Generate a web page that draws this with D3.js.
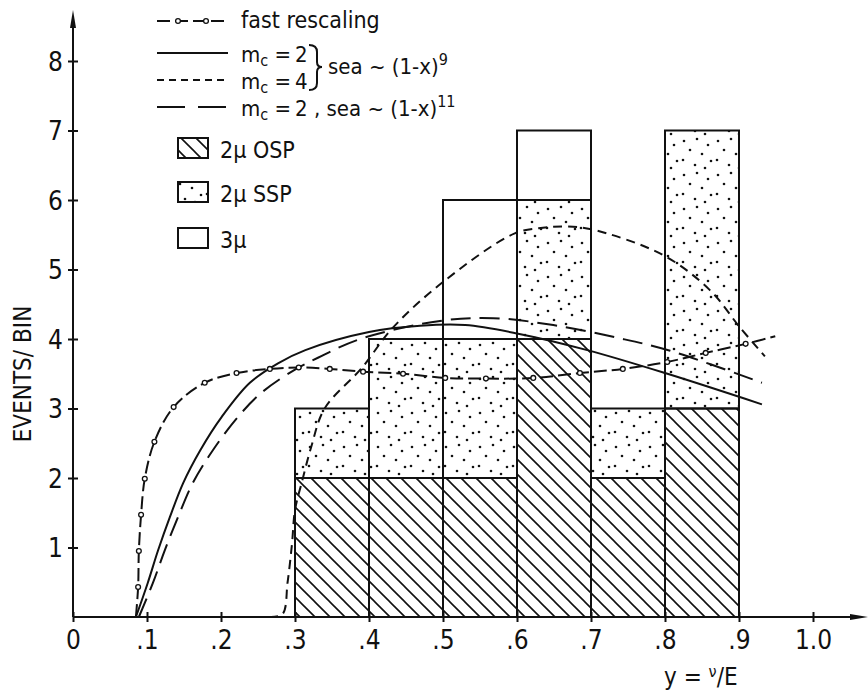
<!DOCTYPE html>
<html>
<head>
<meta charset="utf-8">
<script src="https://cdn.jsdelivr.net/npm/d3@7"></script>
<style>
  body { margin: 0; background: #fff; }
  svg { display: block; }
  text { font-family: "DejaVu Sans Condensed", "Liberation Sans", sans-serif; fill: #111; }
</style>
</head>
<body>
<div id="chart"></div>
<script>
// Histogram bins (left edge of each 0.1 wide bin) and counts per category
const binStarts = [0.3, 0.4, 0.5, 0.6, 0.7, 0.8];
const osp2mu = [2, 2, 2, 4, 2, 3];
const ssp2mu = [1, 2, 2, 2, 1, 4];
const events3mu = [0, 0, 2, 1, 0, 0];

// Curves: [y, events/bin]
const fastRescaling = [[0.085, 0], [0.088, 0.43], [0.089, 0.95], [0.092, 1.47], [0.097, 1.99],
  [0.110, 2.52], [0.136, 3.02], [0.178, 3.37], [0.221, 3.51], [0.266, 3.57], [0.305, 3.59],
  [0.347, 3.57], [0.392, 3.53], [0.446, 3.50], [0.503, 3.44], [0.558, 3.43], [0.622, 3.44],
  [0.685, 3.51], [0.743, 3.57], [0.803, 3.67], [0.855, 3.80], [0.909, 3.93], [0.949, 4.04]];
const mc2Sea9 = [[0.085, 0], [0.101, 0.49], [0.115, 0.96], [0.131, 1.44], [0.149, 1.93],
  [0.172, 2.40], [0.201, 2.88], [0.239, 3.37], [0.277, 3.65], [0.314, 3.84], [0.40, 4.1],
  [0.469, 4.19], [0.53, 4.2], [0.6, 4.08], [0.695, 3.84], [0.8, 3.51], [0.931, 3.06]];
const mc4Sea9 = [[0.265, 0], [0.283, 0.04], [0.29, 0.5], [0.296, 1.06], [0.30, 1.54], [0.31, 1.97],
  [0.322, 2.45], [0.34, 3.0], [0.39, 3.58], [0.432, 4.16], [0.5, 4.82], [0.597, 5.52], [0.635, 5.6],
  [0.665, 5.62], [0.70, 5.58], [0.797, 5.21], [0.861, 4.7], [0.901, 4.17], [0.935, 3.75]];
const mc2Sea11 = [[0.089, 0], [0.108, 0.49], [0.124, 0.96], [0.142, 1.44], [0.162, 1.93],
  [0.189, 2.40], [0.223, 2.88], [0.255, 3.23], [0.30, 3.56], [0.331, 3.73], [0.388, 4.0],
  [0.496, 4.26], [0.568, 4.30], [0.649, 4.2], [0.739, 4.01], [0.807, 3.83], [0.931, 3.37]];

// Tick labels
const xTickValues = [0, 0.1, 0.2, 0.3, 0.4, 0.5, 0.6, 0.7, 0.8, 0.9, 1.0];
const xTickLabels = ["0", ".1", ".2", ".3", ".4", ".5", ".6", ".7", ".8", ".9", "1.0"];
const yTickValues = [1, 2, 3, 4, 5, 6, 7, 8];

const width = 868;
const height = 693;
const ink = "#111";

const svg = d3.select("#chart")
  .append("svg")
    .attr("width", width)
    .attr("height", height);

/* scales */
const xScale = d3.scaleLinear().domain([0, 1]).range([73, 813]);
const yScale = d3.scaleLinear().domain([0, 8]).range([617, 61]);

/* patterns */
const defs = svg.append("defs");
const hatch = defs.append("pattern")
    .attr("id", "hatch")
    .attr("patternUnits", "userSpaceOnUse")
    .attr("width", 15).attr("height", 15)
    .attr("x", 0).attr("y", 2);
hatch.append("path")
    .attr("d", "M0,0 L15,15 M-5,10 L5,20 M10,-5 L20,5")
    .attr("stroke", ink)
    .attr("stroke-width", 1.6);

const dots = defs.append("pattern")
    .attr("id", "dots")
    .attr("patternUnits", "userSpaceOnUse")
    .attr("width", 34).attr("height", 34);
const dotPos = [[4, 5], [17, 3], [28, 9], [10, 14], [22, 18], [3, 24], [31, 25], [15, 29], [25, 32]];
dots.selectAll("circle")
  .data(dotPos)
  .join("circle")
    .attr("cx", d => d[0]).attr("cy", d => d[1])
    .attr("r", 1.3)
    .attr("fill", ink);

/* histogram */
const stacks = binStarts.map((x0, i) => [
  {x0, y0: 0, y1: osp2mu[i], fill: "url(#hatch)"},
  {x0, y0: osp2mu[i], y1: osp2mu[i] + ssp2mu[i], fill: "url(#dots)"},
  {x0, y0: osp2mu[i] + ssp2mu[i], y1: osp2mu[i] + ssp2mu[i] + events3mu[i], fill: "#fff"}
]).flat().filter(d => d.y1 > d.y0);

svg.append("g")
  .selectAll("rect")
  .data(stacks)
  .join("rect")
    .attr("x", d => xScale(d.x0))
    .attr("width", d => xScale(d.x0 + 0.1) - xScale(d.x0))
    .attr("y", d => yScale(d.y1))
    .attr("height", d => yScale(d.y0) - yScale(d.y1))
    .attr("fill", d => d.fill)
    .attr("stroke", ink)
    .attr("stroke-width", 2);

/* curves */
const line = d3.line()
  .x(d => xScale(d[0]))
  .y(d => yScale(d[1]))
  .curve(d3.curveCatmullRom);

const curves = [
  {data: mc2Sea9, dash: null},
  {data: mc4Sea9, dash: "9,6"},
  {data: mc2Sea11, dash: "20,9"},
  {data: fastRescaling, dash: "13,5"}
];
svg.append("g")
  .selectAll("path")
  .data(curves)
  .join("path")
    .attr("d", d => line(d.data))
    .attr("fill", "none")
    .attr("stroke", ink)
    .attr("stroke-width", 2)
    .attr("stroke-dasharray", d => d.dash);

svg.append("g")
  .selectAll("circle")
  .data(fastRescaling.slice(1, -1))
  .join("circle")
    .attr("cx", d => xScale(d[0]))
    .attr("cy", d => yScale(d[1]))
    .attr("r", 2.4)
    .attr("fill", "#fff")
    .attr("stroke", ink)
    .attr("stroke-width", 1.3);

/* axes */
const leftAxis = d3.axisLeft(yScale)
  .tickValues(yTickValues)
  .tickSize(5)
  .tickPadding(5);
const gy = svg.append("g")
    .attr("transform", `translate(${xScale(0)}, 0)`)
    .call(leftAxis);
gy.select(".domain").remove();
gy.selectAll(".tick line").attr("x1", 5).attr("stroke", ink).attr("stroke-width", 2);
gy.selectAll(".tick text")
    .attr("font-size", 26)
    .attr("font-family", "DejaVu Sans Condensed")
    .attr("dy", "0.36em")
    .attr("fill", ink);

const bottomAxis = d3.axisBottom(xScale)
  .tickValues(xTickValues)
  .tickFormat((d, i) => xTickLabels[i])
  .tickSize(5)
  .tickPadding(8);
const gx = svg.append("g")
    .attr("transform", `translate(0, ${yScale(0)})`)
    .call(bottomAxis);
gx.select(".domain").remove();
gx.selectAll(".tick line").attr("y1", -5).attr("stroke", ink).attr("stroke-width", 2);
gx.selectAll(".tick text")
    .attr("font-size", 26)
    .attr("font-family", "DejaVu Sans Condensed")
    .attr("dy", "0.72em")
    .attr("fill", ink);

// axis lines with arrow heads
svg.append("line")
    .attr("x1", xScale(0)).attr("y1", yScale(0))
    .attr("x2", xScale(0)).attr("y2", 24)
    .attr("stroke", ink).attr("stroke-width", 2);
svg.append("path")
    .attr("d", `M${xScale(0)},10 L${xScale(0) - 3},28 L${xScale(0) + 3},28 Z`)
    .attr("fill", ink);
svg.append("line")
    .attr("x1", xScale(0)).attr("y1", yScale(0))
    .attr("x2", 856).attr("y2", yScale(0))
    .attr("stroke", ink).attr("stroke-width", 2);
svg.append("path")
    .attr("d", `M868,${yScale(0)} L850,${yScale(0) - 3} L850,${yScale(0) + 3} Z`)
    .attr("fill", ink);

// axis titles
svg.append("text")
    .attr("transform", "translate(31, 374) rotate(-90)")
    .attr("text-anchor", "middle")
    .attr("font-size", 24)
    .text("EVENTS/ BIN");

const xTitle = svg.append("text")
    .attr("x", 664).attr("y", 685)
    .attr("font-size", 24);
xTitle.append("tspan").text("y = ");
xTitle.append("tspan").attr("dy", -8).attr("font-size", 16).text("ν");
xTitle.append("tspan").attr("dy", 8).text("/E");

/* legend */
const legend = svg.append("g");
const legendLines = [
  {y: 21, dash: "13,5", dots: true},
  {y: 53, dash: null},
  {y: 80, dash: "7,5"},
  {y: 107, dash: "28,13"}
];
legend.selectAll("line")
  .data(legendLines)
  .join("line")
    .attr("x1", 157).attr("x2", 228)
    .attr("y1", d => d.y).attr("y2", d => d.y)
    .attr("stroke", ink).attr("stroke-width", 2)
    .attr("stroke-dasharray", d => d.dash);
legend.selectAll("circle")
  .data([178, 206])
  .join("circle")
    .attr("cx", d => d).attr("cy", 21).attr("r", 2.4)
    .attr("fill", "#fff").attr("stroke", ink).attr("stroke-width", 1.3);

legend.append("text").attr("x", 241).attr("y", 28).attr("font-size", 23).text("fast rescaling");

const mText = (y, value) => {
  const t = legend.append("text").attr("x", 241).attr("y", y).attr("font-size", 22);
  t.append("tspan").text("m");
  t.append("tspan").attr("dy", 4).attr("font-size", 16).text("c");
  t.append("tspan").attr("dy", -4).text(" =\u2009" + value);
  return t;
};
mText(62, "2");
mText(89, "4");
const last = mText(116, "2 , sea ~ (1-x)");
last.append("tspan").attr("dy", -9).attr("font-size", 16).text("11");

legend.append("path")
    .attr("d", "M309,45 Q317,45 317,52 L317,62 Q317,67 322,67 Q317,67 317,72 L317,83 Q317,90 309,90")
    .attr("fill", "none").attr("stroke", ink).attr("stroke-width", 2);
const seaText = legend.append("text").attr("x", 328).attr("y", 74).attr("font-size", 22);
seaText.append("tspan").text("sea ~ (1-x)");
seaText.append("tspan").attr("dy", -9).attr("font-size", 16).text("9");

const swatches = [
  {y: 138, fill: "url(#hatch)", label: "2μ OSP"},
  {y: 182, fill: "url(#dots)", label: "2μ SSP"},
  {y: 228, fill: "#fff", label: "3μ"}
];
legend.selectAll("rect")
  .data(swatches)
  .join("rect")
    .attr("x", 178).attr("y", d => d.y)
    .attr("width", 30).attr("height", 20)
    .attr("fill", d => d.fill)
    .attr("stroke", ink).attr("stroke-width", 2);
legend.selectAll("text.swatch")
  .data(swatches)
  .join("text")
    .attr("class", "swatch")
    .attr("x", 220).attr("y", d => d.y + 20)
    .attr("font-size", 23)
    .text(d => d.label);
</script>
</body>
</html>
